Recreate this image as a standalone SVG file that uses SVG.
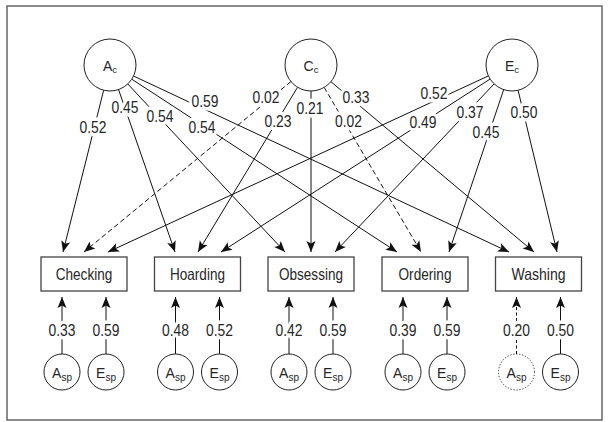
<svg xmlns="http://www.w3.org/2000/svg" width="609" height="422" viewBox="0 0 609 422">
<defs>
<marker id="arr" viewBox="-12 -6 13 12" refX="0" refY="0" markerWidth="13" markerHeight="12" markerUnits="userSpaceOnUse" orient="auto">
<path d="M0,0 L-11,-4.5 L-8.5,0 L-11,4.5 Z" fill="#111"/>
</marker>
<style>
.frame{fill:#fff;stroke:#666;stroke-width:1.5}
.lnk{stroke:#111;stroke-width:1;fill:none;marker-end:url(#arr)}
.dash{stroke-dasharray:5 3}
.sdash{stroke-dasharray:3 2.5}
.lbl{font-family:"Liberation Sans",Arial,sans-serif;font-size:16.5px;fill:#262626;text-anchor:middle;stroke:#fff;stroke-width:7;paint-order:stroke;stroke-linejoin:round}
.circ{fill:#fff;stroke:#222;stroke-width:1}
.dot{stroke-dasharray:1.2 1.8}
.box{fill:#fff;stroke:#444;stroke-width:1.3}
.bt{font-family:"Liberation Sans",Arial,sans-serif;font-size:16.5px;fill:#262626;text-anchor:middle}
.nt{font-family:"Liberation Sans",Arial,sans-serif;font-size:14px;fill:#262626;text-anchor:middle}
.nb{font-family:"Liberation Sans",Arial,sans-serif;font-size:14px;fill:#262626;text-anchor:middle}
.sub{font-size:9.5px}
.sub2{font-size:10px}
</style>
</defs>
<rect class="frame" x="7" y="6" width="595" height="414"/>

<g id="connectors">
<line class="lnk" x1="103.66" y1="90.22" x2="63" y2="252"/>
<line class="lnk" x1="118.54" y1="89.56" x2="175" y2="252"/>
<line class="lnk" x1="127.77" y1="83.98" x2="285" y2="252"/>
<line class="lnk" x1="131.79" y1="79.19" x2="397" y2="252"/>
<line class="lnk" x1="133.54" y1="76.03" x2="509" y2="252"/>
<line class="lnk dash" x1="290.93" y1="81.53" x2="84" y2="252"/>
<line class="lnk" x1="297.55" y1="87.25" x2="198" y2="252"/>
<line class="lnk" x1="311" y1="91" x2="311" y2="252"/>
<line class="lnk dash" x1="324.18" y1="87.41" x2="421" y2="252"/>
<line class="lnk" x1="330.92" y1="81.71" x2="534" y2="252"/>
<line class="lnk" x1="488.4" y1="75.92" x2="108" y2="252"/>
<line class="lnk" x1="490.13" y1="79.06" x2="221" y2="252"/>
<line class="lnk" x1="494.13" y1="83.88" x2="335" y2="252"/>
<line class="lnk" x1="503.7" y1="89.64" x2="449" y2="252"/>
<line class="lnk" x1="518.08" y1="90.28" x2="557" y2="252"/>
<line class="lnk" x1="62" y1="354" x2="62" y2="297"/>
<line class="lnk" x1="106" y1="354" x2="106" y2="297"/>
<line class="lnk" x1="175.5" y1="354" x2="175.5" y2="297"/>
<line class="lnk" x1="219.5" y1="354" x2="219.5" y2="297"/>
<line class="lnk" x1="289" y1="354" x2="289" y2="297"/>
<line class="lnk" x1="333" y1="354" x2="333" y2="297"/>
<line class="lnk" x1="403" y1="354" x2="403" y2="297"/>
<line class="lnk" x1="447" y1="354" x2="447" y2="297"/>
<line class="lnk sdash" x1="516.5" y1="354" x2="516.5" y2="297"/>
<line class="lnk" x1="560.5" y1="354" x2="560.5" y2="297"/>
</g>

<g id="connector-labels">
<text class="lbl" x="93" y="133" textLength="27" lengthAdjust="spacingAndGlyphs">0.52</text>
<text class="lbl" x="125" y="112.5" textLength="27" lengthAdjust="spacingAndGlyphs">0.45</text>
<text class="lbl" x="160" y="122" textLength="27" lengthAdjust="spacingAndGlyphs">0.54</text>
<text class="lbl" x="202" y="133" textLength="27" lengthAdjust="spacingAndGlyphs">0.54</text>
<text class="lbl" x="205" y="107" textLength="27" lengthAdjust="spacingAndGlyphs">0.59</text>
<text class="lbl" x="266" y="102.5" textLength="27" lengthAdjust="spacingAndGlyphs">0.02</text>
<text class="lbl" x="278" y="127" textLength="27" lengthAdjust="spacingAndGlyphs">0.23</text>
<text class="lbl" x="310" y="114" textLength="27" lengthAdjust="spacingAndGlyphs">0.21</text>
<text class="lbl" x="348.5" y="127" textLength="27" lengthAdjust="spacingAndGlyphs">0.02</text>
<text class="lbl" x="356" y="102.5" textLength="27" lengthAdjust="spacingAndGlyphs">0.33</text>
<text class="lbl" x="434" y="99" textLength="27" lengthAdjust="spacingAndGlyphs">0.52</text>
<text class="lbl" x="423" y="128" textLength="27" lengthAdjust="spacingAndGlyphs">0.49</text>
<text class="lbl" x="470" y="118" textLength="27" lengthAdjust="spacingAndGlyphs">0.37</text>
<text class="lbl" x="486" y="138" textLength="27" lengthAdjust="spacingAndGlyphs">0.45</text>
<text class="lbl" x="524" y="118" textLength="27" lengthAdjust="spacingAndGlyphs">0.50</text>
<text class="lbl" x="62" y="336" textLength="27" lengthAdjust="spacingAndGlyphs">0.33</text>
<text class="lbl" x="106" y="336" textLength="27" lengthAdjust="spacingAndGlyphs">0.59</text>
<text class="lbl" x="175.5" y="336" textLength="27" lengthAdjust="spacingAndGlyphs">0.48</text>
<text class="lbl" x="219.5" y="336" textLength="27" lengthAdjust="spacingAndGlyphs">0.52</text>
<text class="lbl" x="289" y="336" textLength="27" lengthAdjust="spacingAndGlyphs">0.42</text>
<text class="lbl" x="333" y="336" textLength="27" lengthAdjust="spacingAndGlyphs">0.59</text>
<text class="lbl" x="403" y="336" textLength="27" lengthAdjust="spacingAndGlyphs">0.39</text>
<text class="lbl" x="447" y="336" textLength="27" lengthAdjust="spacingAndGlyphs">0.59</text>
<text class="lbl" x="516.5" y="336" textLength="27" lengthAdjust="spacingAndGlyphs">0.20</text>
<text class="lbl" x="560.5" y="336" textLength="27" lengthAdjust="spacingAndGlyphs">0.50</text>
</g>

<g id="node-Ac"><circle class="circ" cx="110" cy="65" r="26"/><text class="nt" x="110" y="70.5">A<tspan class="sub" dy="2">c</tspan></text></g>
<g id="node-Cc"><circle class="circ" cx="311" cy="65" r="26"/><text class="nt" x="311" y="70.5">C<tspan class="sub" dy="2">c</tspan></text></g>
<g id="node-Ec"><circle class="circ" cx="512" cy="65" r="26"/><text class="nt" x="512" y="70.5">E<tspan class="sub" dy="2">c</tspan></text></g>

<g id="node-Checking"><rect class="box" x="41" y="257" width="86" height="34"/><text class="bt" x="84" y="280" textLength="56.5" lengthAdjust="spacingAndGlyphs">Checking</text></g>
<g id="node-Hoarding"><rect class="box" x="154.5" y="257" width="86" height="34"/><text class="bt" x="197.5" y="280" textLength="55" lengthAdjust="spacingAndGlyphs">Hoarding</text></g>
<g id="node-Obsessing"><rect class="box" x="268" y="257" width="86" height="34"/><text class="bt" x="311" y="280" textLength="64" lengthAdjust="spacingAndGlyphs">Obsessing</text></g>
<g id="node-Ordering"><rect class="box" x="382" y="257" width="86" height="34"/><text class="bt" x="425" y="280" textLength="53" lengthAdjust="spacingAndGlyphs">Ordering</text></g>
<g id="node-Washing"><rect class="box" x="495.5" y="257" width="86" height="34"/><text class="bt" x="538.5" y="280" textLength="54" lengthAdjust="spacingAndGlyphs">Washing</text></g>

<g id="node-Asp-Checking"><circle class="circ" cx="62" cy="372" r="18"/><text class="nb" x="62" y="378">A<tspan class="sub2" dy="2.5">sp</tspan></text></g>
<g id="node-Esp-Checking"><circle class="circ" cx="106" cy="372" r="18"/><text class="nb" x="106" y="378">E<tspan class="sub2" dy="2.5">sp</tspan></text></g>
<g id="node-Asp-Hoarding"><circle class="circ" cx="175.5" cy="372" r="18"/><text class="nb" x="175.5" y="378">A<tspan class="sub2" dy="2.5">sp</tspan></text></g>
<g id="node-Esp-Hoarding"><circle class="circ" cx="219.5" cy="372" r="18"/><text class="nb" x="219.5" y="378">E<tspan class="sub2" dy="2.5">sp</tspan></text></g>
<g id="node-Asp-Obsessing"><circle class="circ" cx="289" cy="372" r="18"/><text class="nb" x="289" y="378">A<tspan class="sub2" dy="2.5">sp</tspan></text></g>
<g id="node-Esp-Obsessing"><circle class="circ" cx="333" cy="372" r="18"/><text class="nb" x="333" y="378">E<tspan class="sub2" dy="2.5">sp</tspan></text></g>
<g id="node-Asp-Ordering"><circle class="circ" cx="403" cy="372" r="18"/><text class="nb" x="403" y="378">A<tspan class="sub2" dy="2.5">sp</tspan></text></g>
<g id="node-Esp-Ordering"><circle class="circ" cx="447" cy="372" r="18"/><text class="nb" x="447" y="378">E<tspan class="sub2" dy="2.5">sp</tspan></text></g>
<g id="node-Asp-Washing"><circle class="circ dot" cx="516.5" cy="372" r="18"/><text class="nb" x="516.5" y="378">A<tspan class="sub2" dy="2.5">sp</tspan></text></g>
<g id="node-Esp-Washing"><circle class="circ" cx="560.5" cy="372" r="18"/><text class="nb" x="560.5" y="378">E<tspan class="sub2" dy="2.5">sp</tspan></text></g>
</svg>
